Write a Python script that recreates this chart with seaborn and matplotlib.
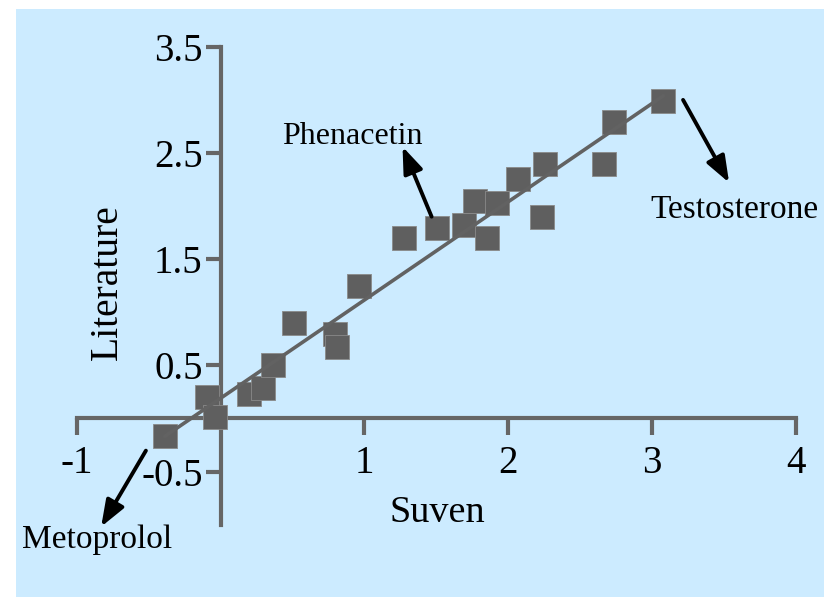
import matplotlib
matplotlib.use("Agg")
import matplotlib.pyplot as plt
from matplotlib.patches import Rectangle
import numpy as np
import pandas as pd
import seaborn as sns

# ---- data ----
suven = [-0.387, -0.094, -0.042, 0.199, 0.296, 0.366, 0.510, 0.795, 0.806, 0.960,
         1.277, 1.502, 1.692, 1.768, 1.921, 1.852, 2.067, 2.253, 2.234, 2.668,
         2.737, 3.078]
literature = [-0.162, 0.200, 0.011, 0.231, 0.290, 0.504, 0.896, 0.796, 0.676, 1.250,
              1.697, 1.797, 1.822, 2.051, 2.032, 1.697, 2.255, 2.396, 1.894, 2.393,
              2.795, 2.993]
x_ticks = [-1, 1, 2, 3, 4]
x_tick_labels = ["-1", "1", "2", "3", "4"]
y_ticks = [-0.5, 0.5, 1.5, 2.5, 3.5]
y_tick_labels = ["-0.5", "0.5", "1.5", "2.5", "3.5"]
labels = ["Phenacetin", "Testosterone", "Metoprolol"]

df = pd.DataFrame({"Suven": suven, "Literature": literature})

sns.set_style("white")
plt.rcParams["font.family"] = ["Liberation Serif", "DejaVu Serif"]
plt.rcParams["text.color"] = "black"
plt.rcParams["axes.labelcolor"] = "black"
plt.rcParams["xtick.labelcolor"] = "black"
plt.rcParams["ytick.labelcolor"] = "black"

W, H = 824, 597
fig = plt.figure(figsize=(W / 100, H / 100), dpi=100)
fig.patch.set_facecolor("white")
fig.add_artist(Rectangle((16 / W, 0), 1 - 16 / W, 1 - 9 / H,
                         transform=fig.transFigure, facecolor="#CCEBFF",
                         edgecolor="none", zorder=-10))

ax = fig.add_axes([76.7 / W, (H - 524.7) / H, 719.3 / W, 478.0 / H])
ax.set_facecolor("none")

gray = "#5f5f5f"
sns.regplot(data=df, x="Suven", y="Literature", scatter=False, ci=None,
            truncate=True, ax=ax,
            line_kws=dict(color="#626262", lw=2.6, zorder=3))
sns.scatterplot(data=df, x="Suven", y="Literature", marker="s", s=320,
                color=gray, edgecolor="#8a8a8a", linewidth=0.6, ax=ax,
                zorder=2, clip_on=False)

ax.set_xlim(-1, 4)
ax.set_ylim(-1, 3.5)

for side in ["top", "right"]:
    ax.spines[side].set_visible(False)
for side in ["left", "bottom"]:
    ax.spines[side].set_position(("data", 0))
    ax.spines[side].set_color("#666666")
    ax.spines[side].set_linewidth(3)
    ax.spines[side].set_zorder(1)

ax.set_xticks(x_ticks)
ax.set_xticklabels(x_tick_labels)
ax.set_yticks(y_ticks)
ax.set_yticklabels(y_tick_labels)
ax.tick_params(axis="x", direction="out", length=12, width=3, color="#666666",
               labelsize=28, pad=7, bottom=True, labelcolor="black")
ax.tick_params(axis="y", direction="out", length=11, width=3, color="#666666",
               labelsize=28, pad=2, left=True, labelcolor="black")

ax.set_xlabel("Suven", fontsize=27.5, va="center", color="black")
ax.xaxis.set_label_coords(0.501, 0.0245)
ax.set_ylabel("Literature", fontsize=28.5, va="center", color="black")
ax.yaxis.set_label_coords(0.042, 0.508)

arrow = dict(arrowstyle="-|>,head_length=0.8,head_width=0.3", color="black",
             lw=2.8, shrinkA=0, shrinkB=0, mutation_scale=20)
ax.annotate("", xy=(1.265, 2.559), xytext=(1.467, 1.900), arrowprops=arrow,
            annotation_clip=False)
ax.annotate("", xy=(3.535, 2.220), xytext=(3.215, 2.999), arrowprops=arrow,
            annotation_clip=False)
ax.annotate("", xy=(-0.830, -1.019), xytext=(-0.519, -0.303), arrowprops=arrow,
            annotation_clip=False)

ax.text(0.913, 2.653, labels[0], fontsize=23, ha="center", va="center", color="black")
ax.text(3.573, 1.963, labels[1], fontsize=24, ha="center", va="center",
        clip_on=False, color="black")
ax.text(-0.857, -1.144, labels[2], fontsize=24, ha="center", va="center",
        clip_on=False, color="black")

fig.savefig("out.png", dpi=100)
